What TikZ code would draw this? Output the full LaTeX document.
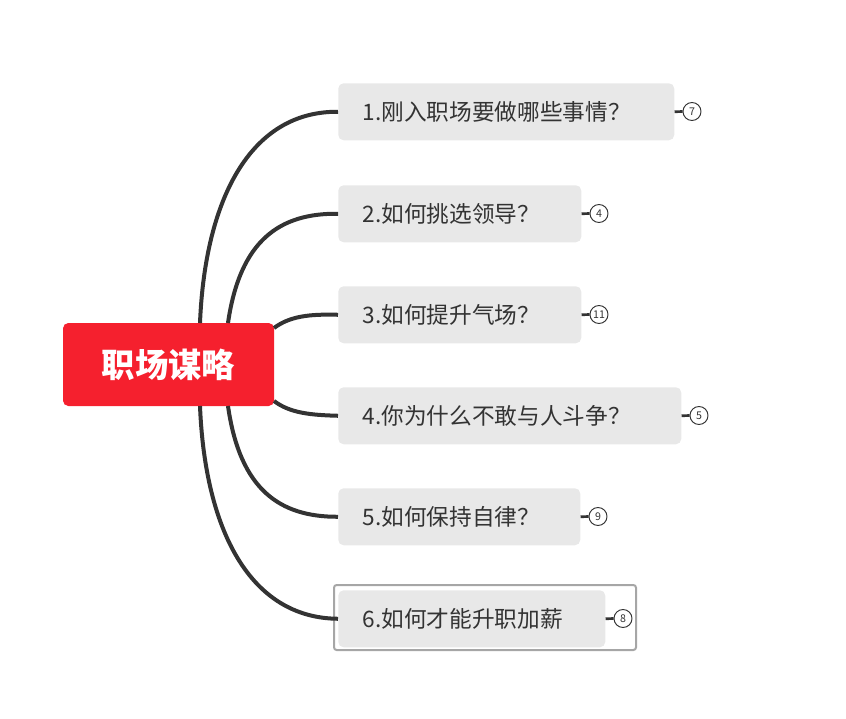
\documentclass[tikz,border=0pt]{standalone}
\usepackage{fontspec}
\setmainfont{Noto Sans CJK SC}
\usetikzlibrary{calc}
\definecolor{cred}{HTML}{F5202E}
\definecolor{cgray}{HTML}{E8E8E8}
\definecolor{cline}{HTML}{333333}
\begin{document}
\begin{tikzpicture}[x=0.75pt,y=-0.75pt,
  topic/.style={fill=cgray,rounded corners=4pt,inner sep=0pt,anchor=north west},
  lbl/.style={font=\fontsize{17}{19}\selectfont,text=cline,anchor=west},
  cnt/.style={circle,draw=cline,line width=0.7pt,minimum size=13.5pt,inner sep=0pt,font=\fontsize{8}{9}\selectfont,text=cline},
  conn/.style={draw=cline,line width=3pt},
  stub/.style={draw=cline,line width=2pt}]
\useasboundingbox (0,0) rectangle (846,718);
\node[fill=cred,rounded corners=4pt,minimum width=211*0.75pt,minimum height=83*0.75pt,inner sep=0pt,text=white,font=\fontsize{25}{27}\selectfont\bfseries] (c) at (168.5,364.5) {职场谋略};
\draw[draw=gray!70,line width=1.5pt,rounded corners=2pt] (334,585) rectangle (636,650);
\foreach \n/\y/\w/\cx/\t/\k in {
 1/83/336/692/1.刚入职场要做哪些事情？/7,
 2/185/243/599/2.如何挑选领导？/4,
 3/286/243/599/3.如何提升气场？/11,
 4/387/343/699/4.你为什么不敢与人斗争？/5,
 5/488/242/598/5.如何保持自律？/9,
 6/590/267/623/6.如何才能升职加薪/8}{
 \node[topic,minimum width=\w*0.75pt,minimum height=57*0.75pt] (b\n) at (338,\y) {};
 \node[lbl] (t\n) at ($(b\n.west)+(20,0)$) {\t};
 \node[cnt] (k\n) at (\cx,\y+28.5) {\k};
 \draw[stub] (b\n.east) -- (k\n.west);
}
\coordinate (s1) at (200,323);
\coordinate (s2) at (228,323);
\coordinate (s3) at (274,328);
\coordinate (s4) at (274,401);
\coordinate (s5) at (228,406);
\coordinate (s6) at (200,406);
\draw[conn] (s1) .. controls (205,200) and (250,111) .. (b1.west);
\draw[conn] (s2) .. controls (240,240) and (280,213) .. (b2.west);
\draw[conn] (s3) .. controls (290,316) and (310,314) .. (b3.west);
\draw[conn] (s4) .. controls (290,413) and (310,415) .. (b4.west);
\draw[conn] (s5) .. controls (240,490) and (280,517) .. (b5.west);
\draw[conn] (s6) .. controls (205,530) and (250,618) .. (b6.west);
\end{tikzpicture}
\end{document}
